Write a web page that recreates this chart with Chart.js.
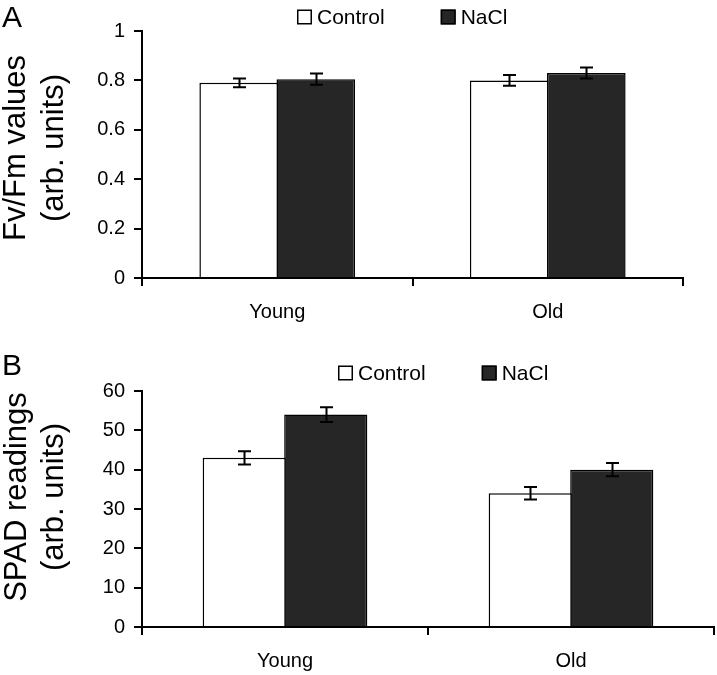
<!DOCTYPE html>
<html><head><meta charset="utf-8">
<script src="https://cdn.jsdelivr.net/npm/chart.js@4"></script>
<style>
html,body{margin:0;padding:0;background:#fff;}
#wrap{position:relative;width:717px;height:675px;overflow:hidden;}
.box{position:absolute;left:0;width:717px;}
</style></head><body>
<div id="wrap">
<div class="box" style="top:0;height:330px"><canvas id="cA" width="717" height="330"></canvas></div>
<div class="box" style="top:330px;height:345px"><canvas id="cB" width="717" height="345"></canvas></div>
</div>
<script>
// ---- data ----
const categories = ['Young', 'Old'];
const seriesNames = ['Control', 'NaCl'];
const fvfmControl = [0.79, 0.80];
const fvfmControlErr = [0.018, 0.022];
const fvfmNaCl = [0.805, 0.83];
const fvfmNaClErr = [0.023, 0.022];
const spadControl = [43, 34];
const spadControlErr = [1.7, 1.6];
const spadNaCl = [54, 40];
const spadNaClErr = [1.9, 1.7];
const ticksA = [0, 0.2, 0.4, 0.6, 0.8, 1];
const ticksB = [0, 10, 20, 30, 40, 50, 60];
const titleA = ['Fv/Fm values', '(arb. units)'];
const titleB = ['SPAD readings', '(arb. units)'];
const panelLetters = ['A', 'B'];

const FONT = '"Liberation Sans", Arial, Helvetica, sans-serif';

const errorBars = {
  id: 'errorBars',
  afterDatasetsDraw(chart) {
    const ctx = chart.ctx;
    const ys = chart.scales.y;
    ctx.save();
    ctx.strokeStyle = '#000';
    ctx.lineWidth = 2;
    chart.data.datasets.forEach((ds, i) => {
      const meta = chart.getDatasetMeta(i);
      meta.data.forEach((bar, j) => {
        const v = ds.data[j], e = ds.errors[j];
        const x = Math.round(bar.x) + 0.5;
        const yt = ys.getPixelForValue(v + e);
        const yb = ys.getPixelForValue(v - e);
        const w = 6.5;
        ctx.beginPath();
        ctx.moveTo(x, yt); ctx.lineTo(x, yb);
        ctx.moveTo(x - w, yt); ctx.lineTo(x + w, yt);
        ctx.moveTo(x - w, yb); ctx.lineTo(x + w, yb);
        ctx.stroke();
      });
    });
    ctx.restore();
  }
};

function decor(cfg) {
  return {
    id: 'decor',
    afterDraw(chart) {
      const ctx = chart.ctx;
      ctx.save();
      ctx.fillStyle = '#000';
      // panel letter
      ctx.font = '30px ' + FONT;
      ctx.textAlign = 'left';
      ctx.textBaseline = 'alphabetic';
      ctx.fillText(cfg.letter, cfg.letterX, cfg.letterY);
      // y-axis title (two lines, rotated)
      ctx.font = '31px ' + FONT;
      ctx.textAlign = 'center';
      cfg.title.forEach((line, k) => {
        ctx.save();
        ctx.translate(cfg.titleBase[k], cfg.titleY);
        ctx.rotate(-Math.PI / 2);
        ctx.fillText(line, 0, 0);
        ctx.restore();
      });
      // legend
      ctx.font = '21px ' + FONT;
      ctx.textAlign = 'left';
      ctx.textBaseline = 'middle';
      let x = cfg.legendX;
      const y = cfg.legendY;
      const bs = 15;
      chart.data.datasets.forEach(ds => {
        ctx.fillStyle = ds.backgroundColor;
        ctx.fillRect(x, y - bs / 2, bs, bs);
        ctx.strokeStyle = '#000';
        ctx.lineWidth = 1.5;
        ctx.strokeRect(x + 0.75, y - bs / 2 + 0.75, bs - 1.5, bs - 1.5);
        ctx.fillStyle = '#000';
        const tx = x + bs + 5;
        ctx.fillText(ds.label, tx, y + 1);
        x = tx + ctx.measureText(ds.label).width + 56;
      });
      ctx.restore();
    }
  };
}

function makeChart(id, ctrl, ctrlErr, nacl, naclErr, yMax, ticks, pad, xHeight, dec) {
  return new Chart(document.getElementById(id), {
    type: 'bar',
    data: {
      labels: categories,
      datasets: [
        { label: seriesNames[0], data: ctrl, errors: ctrlErr, backgroundColor: '#ffffff', borderColor: '#000000', borderWidth: 1.5,
          categoryPercentage: 0.57, barPercentage: 1.02 },
        { label: seriesNames[1], data: nacl, errors: naclErr, backgroundColor: '#262626', borderColor: '#000000', borderWidth: 1.5,
          categoryPercentage: 0.57, barPercentage: 1.02 }
      ]
    },
    options: {
      responsive: false,
      animation: false,
      layout: { padding: pad },
      plugins: { legend: { display: false }, tooltip: { enabled: false } },
      scales: {
        x: {
          offset: true,
          grid: { display: true, offset: true, drawOnChartArea: false, drawTicks: true, tickLength: 8, color: '#000', lineWidth: 2 },
          border: { display: true, color: '#000', width: 2 },
          ticks: { color: '#000', font: { size: 20, family: FONT }, padding: 14, maxRotation: 0 },
          afterFit(s) { s.height = xHeight; }
        },
        y: {
          min: 0, max: yMax,
          grid: { drawOnChartArea: false, drawTicks: true, tickLength: 8, color: '#000', lineWidth: 2 },
          border: { display: true, color: '#000', width: 2 },
          ticks: { color: '#000', font: { size: 20, family: FONT }, padding: 9, callback: v => String(v) },
          afterBuildTicks(s) { s.ticks = ticks.map(v => ({ value: v })); },
          afterFit(s) { s.width = 142; }
        }
      }
    },
    plugins: [errorBars, decor(dec)]
  });
}

makeChart('cA', fvfmControl, fvfmControlErr, fvfmNaCl, fvfmNaClErr, 1, ticksA,
  { top: 31, right: 34, left: 0, bottom: 0 }, 52,
  { letter: panelLetters[0], letterX: 2, letterY: 27, title: titleA, titleBase: [25, 63], titleY: 148, legendX: 297, legendY: 17 });

makeChart('cB', spadControl, spadControlErr, spadNaCl, spadNaClErr, 60, ticksB,
  { top: 61, right: 3, left: 0, bottom: 0 }, 48,
  { letter: panelLetters[1], letterX: 2, letterY: 45, title: titleB, titleBase: [26, 63], titleY: 167, legendX: 338, legendY: 43 });
</script>
</body></html>
